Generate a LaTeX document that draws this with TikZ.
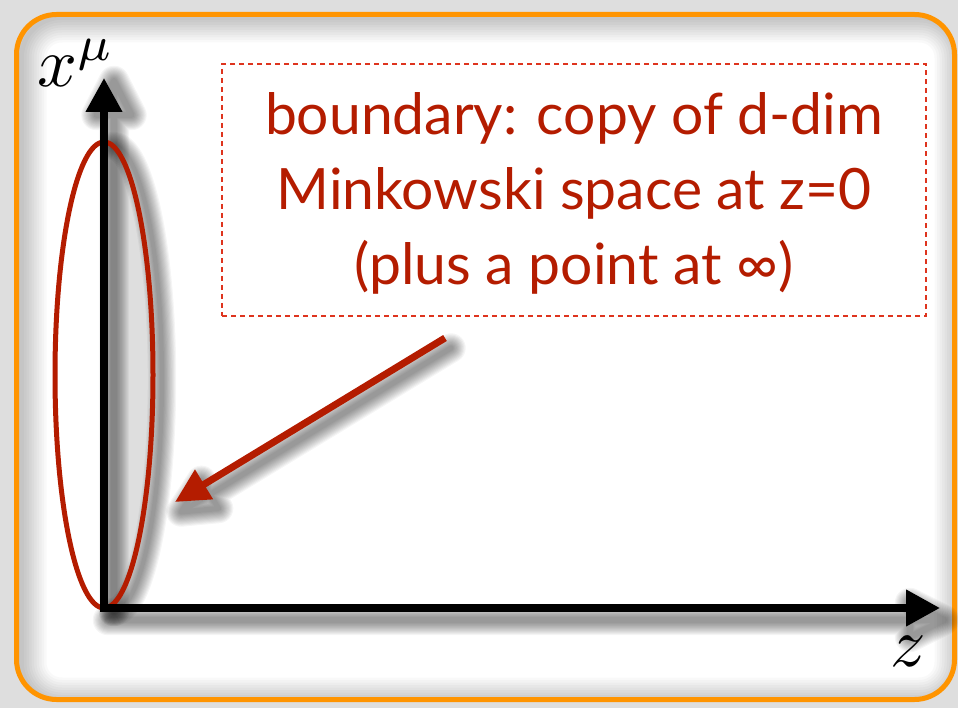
\documentclass[tikz,border=0pt]{standalone}
\usepackage{fontspec}
\usepackage{graphicx}
\newfontfamily\notefont{Lato}
\usetikzlibrary{arrows.meta}

\definecolor{frameorange}{RGB}{255,148,0}
\definecolor{boundred}{RGB}{180,28,0}
\definecolor{dashred}{RGB}{222,52,30}
\definecolor{outergray}{RGB}{222,222,222}

% soft drop shadow: a stack of faint, widening strokes of a path, shifted
\newcommand\softshadow[4]{%
  \begin{scope}[transform canvas={shift={(#2,#3)}}]
    \foreach \k in {1,...,12}{%
      \draw[black, opacity=0.04, line width={#1+2.2pt*\k},
            line join=round, line cap=round] #4;}
  \end{scope}}

\tikzset{
  axis/.style={line width=7.5pt, line cap=rect, black},
  axistip/.style={-{Triangle[length=34pt,width=35pt]}},
  pointer/.style={line width=7pt, boundred, -{Triangle[length=34pt,width=33pt]}},
  notebox/.style={draw=dashred, line width=2pt, dash pattern=on 5pt off 4pt,
                  minimum width=704pt, minimum height=252pt, inner sep=0pt},
  noteline/.style={text=boundred, font=\notefont\fontsize{57}{70}\selectfont,
                   anchor=base, inner sep=0pt},
  mathlabel/.style={inner sep=0pt}
}

\begin{document}
\begin{tikzpicture}[x=1pt, y=-1pt]
  \useasboundingbox (0,0) rectangle (958,708);

  % page and frame
  \fill[outergray] (0,0) rectangle (958,708);
  \fill[white, rounded corners=40pt] (16.5,14.5) rectangle (954.5,699.5);
  \begin{scope}
    \clip[rounded corners=40pt] (16.5,14.5) rectangle (954.5,699.5);
    \begin{scope}[transform canvas={shift={(5,3)}}]
      \foreach \k in {1,...,10}
        \draw[black, opacity=0.022, line width=\k*5pt, rounded corners=40pt]
          (16.5,14.5) rectangle (954.5,699.5);
    \end{scope}
  \end{scope}
  \draw[frameorange, line width=5pt, rounded corners=40pt]
    (16.5,14.5) rectangle (954.5,699.5);

  % key points
  \coordinate (O) at (104,608);
  \coordinate (ytip) at (104,78);
  \coordinate (yh1) at (86.5,112);
  \coordinate (yh2) at (121.5,112);
  \coordinate (xtip) at (940,608);
  \coordinate (xh1) at (906,591);
  \coordinate (xh2) at (906,625);
  \coordinate (ec) at (104,375);
  \coordinate (from) at (445,338);
  \coordinate (to) at (175,502);
  \coordinate (ah1) at (212.6,498.5);
  \coordinate (ah2) at (195.4,470.3);

  % boundary ellipse: shaded right half and shadow
  \begin{scope}
    \clip (ec) ellipse [x radius=49, y radius=233];
    \fill[black!13] (104,130) rectangle (160,620);
  \end{scope}
  \softshadow{2pt}{9}{4}{(104,608) arc[start angle=90, end angle=-90, x radius=49, y radius=233]}

  % axis shadows
  \softshadow{4pt}{10}{3}{(O) -- (ytip) (yh1) -- (ytip) -- (yh2) -- cycle}
  \softshadow{4pt}{4}{12}{(O) -- (xtip) (xh1) -- (xtip) -- (xh2) -- cycle}

  % boundary ellipse
  \draw[boundred, line width=5pt] (ec) ellipse [x radius=49, y radius=233];

  % axes
  \draw[axis, axistip] (O) -- (ytip);
  \draw[axis, axistip] (O) -- (xtip);
  \node[mathlabel] (xmu) at (76,63) {\scalebox{7}{$x^{\mu}$}};
  \node[mathlabel] (zlab) at (908,651) {\scalebox{7}{$z$}};

  % pointer to the boundary
  \softshadow{3pt}{6}{10}{(from) -- (to) (ah1) -- (to) -- (ah2) -- cycle}
  \draw[pointer] (from) -- (to);

  % note
  \node[notebox] (note) at (574,190) {};
  \node[noteline] (l1) at (574,135) {boundary: copy of d-dim};
  \node[noteline] (l2) at (574,210) {Minkowski space at z=0};
  \node[noteline] (l3) at (574,285) {(plus a point at ∞)};
\end{tikzpicture}
\end{document}
